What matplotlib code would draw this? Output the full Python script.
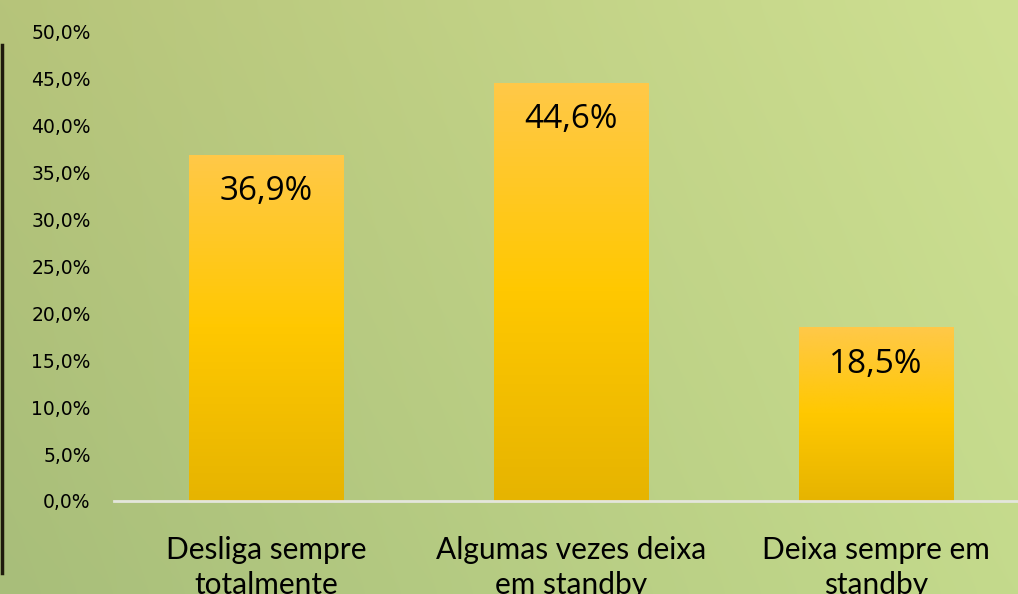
import numpy as np
import matplotlib.pyplot as plt
from matplotlib.lines import Line2D
from matplotlib.ticker import FuncFormatter

categories = ["Desliga sempre\ntotalmente", "Algumas vezes deixa\nem standby", "Deixa sempre em\nstandby"]
values = [36.9, 44.6, 18.5]
labels = ["36,9%", "44,6%", "18,5%"]

fig = plt.figure(figsize=(10.18, 5.94), dpi=100)

# greenish background
bg = fig.add_axes([0, 0, 1, 1], zorder=-10)
bg.axis("off")
tl = np.array([168, 190, 122]) / 255
tr = np.array([196, 218, 140]) / 255
bl = np.array([182, 196, 122]) / 255
br = np.array([206, 224, 146]) / 255
yy, xx = np.mgrid[0:1:60j, 0:1:100j]
img = (tl * (1 - xx)[..., None] * (1 - yy)[..., None] + tr * xx[..., None] * (1 - yy)[..., None]
       + bl * (1 - xx)[..., None] * yy[..., None] + br * xx[..., None] * yy[..., None])
bg.imshow(img, aspect="auto", extent=[0, 1, 0, 1], interpolation="bicubic")
bg.set_xlim(0, 1)
bg.set_ylim(1, 0)

# dark border on the left edge
fig.add_artist(Line2D([0.002, 0.002], [1 - 45 / 594, 1 - 573 / 594], color="#1e1a0c", lw=2.5))

ax = fig.add_axes([0.1115, 0.1566, 0.8988, 0.7896])
ax.patch.set_alpha(0)
x = np.arange(len(categories))
bars = ax.bar(x, values, width=0.505, color="none")

grad = np.linspace(0, 1, 100)[:, None]
top = np.array([255, 200, 72]) / 255
mid = np.array([255, 200, 0]) / 255
bot = np.array([230, 180, 0]) / 255
cols = np.where(grad[..., None] < 0.5,
                top + (mid - top) * (grad[..., None] / 0.5),
                mid + (bot - mid) * ((grad[..., None] - 0.5) / 0.5))
for b in bars:
    x0, y0 = b.get_x(), b.get_y()
    im = ax.imshow(cols, aspect="auto", extent=[x0, x0 + b.get_width(), y0, y0 + b.get_height()],
                   origin="upper", zorder=2)
    im.set_clip_path(b)
ax.set_xlim(-0.5, len(categories) - 0.5)
ax.set_ylim(0, 50)

for b, lab in zip(bars, labels):
    ax.annotate(lab, (b.get_x() + b.get_width() / 2, b.get_height()), xytext=(0, -26.5),
                textcoords="offset points", ha="center", va="center",
                fontsize=24, family="Open Sans", color="black", zorder=3)

for s in ["top", "right", "left"]:
    ax.spines[s].set_visible(False)
ax.spines["bottom"].set_color("#e4e6dc")
ax.spines["bottom"].set_linewidth(2)
ax.spines["bottom"].set_zorder(4)

ax.set_yticks(np.arange(0, 51, 5))
ax.yaxis.set_major_formatter(FuncFormatter(lambda v, p: f"{v:.1f}%".replace(".", ",")))
ax.tick_params(axis="y", length=0, labelsize=13.5, pad=16.5, labelcolor="black")
ax.set_xticks(x)
ax.set_xticklabels(categories, fontsize=21.5, family="Lato", linespacing=1.3)
ax.tick_params(axis="x", length=0, pad=25)

fig.savefig("out.png", dpi=100)
